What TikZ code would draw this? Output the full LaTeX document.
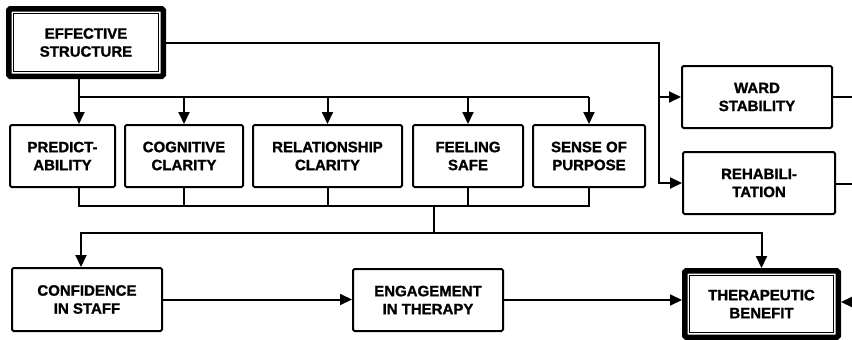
\documentclass[tikz,border=0pt]{standalone}
\usepackage{fontspec}
\setmainfont{Liberation Sans}[BoldFeatures={FakeBold=1.2}]
\usetikzlibrary{arrows.meta,positioning}

\begin{document}
\begin{tikzpicture}[x=1pt, y=-1pt,
    box/.style={rectangle, draw=black, line width=2pt, rounded corners=1.5pt, minimum height=62pt, align=center, inner sep=2pt, font=\fontsize{15}{18}\selectfont\bfseries},
    heavybox/.style={box, draw=none, append after command={\pgfextra{\let\hb\tikzlastnode
        \draw[line width=5.5pt, rounded corners=1.5pt] ([shift={(2.75pt,-2.75pt)}]\hb.north west) rectangle ([shift={(-2.75pt,2.75pt)}]\hb.south east);
        \draw[line width=1.8pt] ([shift={(7.5pt,-7.5pt)}]\hb.north west) rectangle ([shift={(-7.5pt,7.5pt)}]\hb.south east);}}},
    line/.style={line width=2pt},
    arrow/.style={-{Triangle[length=12pt,width=11pt]}, line width=2pt}
]
\useasboundingbox (0,0) rectangle (852,340);

% Source
\node[heavybox, minimum width=158pt, minimum height=71pt] (es) at (86,42.5) {EFFECTIVE\\STRUCTURE};

% Right column
\node[box, minimum width=150pt] (ward) at (757,97) {WARD\\STABILITY};
\node[box, minimum width=152pt] (rehab) at (759,183) {REHABILI-\\TATION};

% Middle row
\node[box, minimum width=105pt] (pred) at (62.5,156) {PREDICT-\\ABILITY};
\node[box, minimum width=118pt] (cog) at (184,156) {COGNITIVE\\CLARITY};
\node[box, minimum width=149pt] (rel) at (327.5,156) {RELATIONSHIP\\CLARITY};
\node[box, minimum width=110pt] (feel) at (468,156) {FEELING\\SAFE};
\node[box, minimum width=112pt] (sense) at (589,156) {SENSE OF\\PURPOSE};

% Bottom row
\node[box, minimum width=150pt, minimum height=63pt] (conf) at (87,299.5) {CONFIDENCE\\IN STAFF};
\node[box, minimum width=150pt] (eng) at (428,300) {ENGAGEMENT\\IN THERAPY};
\node[heavybox, minimum width=157pt, minimum height=70pt] (tb) at (761.5,304) {THERAPEUTIC\\BENEFIT};

% Junction points
\coordinate (rail) at (659,120);
\coordinate (fan) at (79,97);
\coordinate (join) at (434,206);
\coordinate (low) at (81,233);
\coordinate (wardout) at (852,97);
\coordinate (rehabout) at (852,184);
\coordinate (tbin) at (852,302);

% Connections
\draw[arrow] (es.east) -| (rail) |- (rehab.west);
\draw[arrow] (rail |- ward.west) -- (ward.west);
\draw[line] (fan |- es.south) -- (fan) -- (fan -| sense.north);
\draw[arrow] (fan) -- (fan |- pred.north);
\foreach \n in {cog, rel, feel, sense}
    \draw[arrow] (fan -| \n.north) -- (\n.north);
\draw[line] (fan |- pred.south) |- (sense.south |- join) -- (sense.south);
\foreach \n in {cog, rel, feel}
    \draw[line] (\n.south) -- (\n.south |- join);
\draw[arrow] (join) |- (low) -- (low |- conf.north);
\draw[arrow] (join |- low) -| (tb.north);
\draw[arrow] (conf.east) -- (conf.east -| eng.west);
\draw[arrow] (eng.east) -- (eng.east -| tb.west);
\draw[line] (ward.east) -- (wardout);
\draw[line] (rehab.east |- rehabout) -- (rehabout);
\draw[arrow] (tbin) -- (tbin -| tb.east);

\end{tikzpicture}
\end{document}
